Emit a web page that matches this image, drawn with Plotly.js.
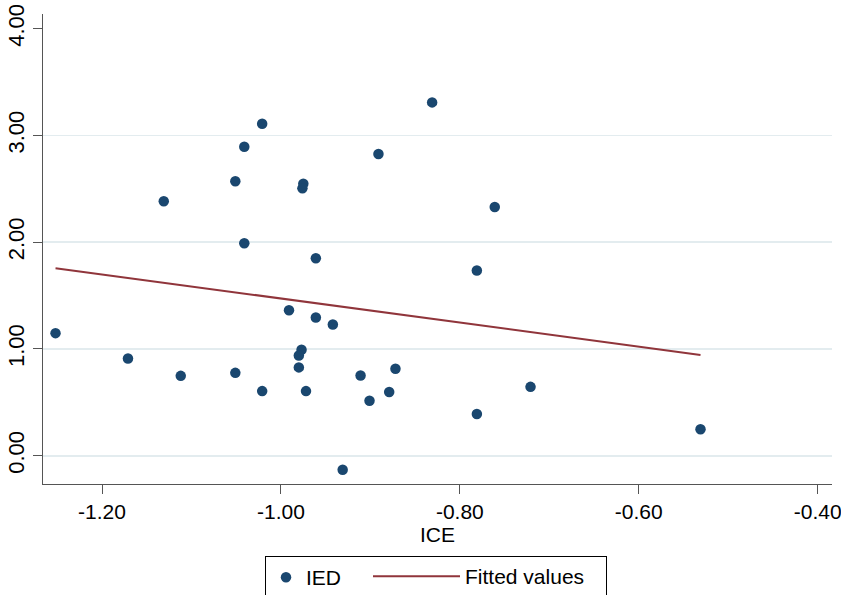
<!DOCTYPE html>
<html>
<head>
<meta charset="utf-8">
<script src="https://cdn.plot.ly/plotly-3.0.1.min.js"></script>
<style>html,body{margin:0;padding:0;background:#fff;}#chart{width:841px;height:595px;}</style>
</head>
<body>
<div id="chart"></div>
<script>
// ICE (x) and IED (y) values
var iceValues = [-1.252,-1.171,-1.112,-1.051,-1.021,-0.991,-1.131,-1.051,-1.041,-1.021,-1.041,-0.831,-0.891,-0.975,-0.976,-0.761,-0.961,-0.781,-0.961,-0.942,-0.977,-0.980,-0.980,-0.972,-0.911,-0.872,-0.901,-0.879,-0.781,-0.721,-0.531,-0.931];
var iedValues = [1.148,0.911,0.748,0.776,0.605,1.363,2.383,2.570,2.894,3.109,1.990,3.309,2.825,2.548,2.504,2.329,1.849,1.734,1.295,1.229,0.992,0.939,0.827,0.605,0.752,0.814,0.515,0.596,0.390,0.645,0.247,-0.131];

var xTickVals = [-1.2,-1.0,-0.8,-0.6,-0.4];
var xTickText = ['-1.20','-1.00','-0.80','-0.60','-0.40'];
var yTickVals = [0,1,2,3,4];
var yTickText = ['0.00','1.00','2.00','3.00','4.00'];
var yGridVals = [0,1,2,3];

// Linear fit (OLS) of IED on ICE
var n = iceValues.length, mx = 0, my = 0;
for (var i = 0; i < n; i++) { mx += iceValues[i]; my += iedValues[i]; }
mx /= n; my /= n;
var sxy = 0, sxx = 0;
for (var i = 0; i < n; i++) { sxy += (iceValues[i]-mx)*(iedValues[i]-my); sxx += (iceValues[i]-mx)*(iceValues[i]-mx); }
var slope = sxy / sxx, intercept = my - slope * mx;
var fitX = [Math.min.apply(null, iceValues), Math.max.apply(null, iceValues)];
var fitY = fitX.map(function(v){ return intercept + slope * v; });

var font = 'Liberation Sans, Arial, sans-serif';
var traces = [
  {x: iceValues, y: iedValues, type: 'scatter', mode: 'markers', name: 'IED',
   marker: {color: '#1a476f', size: 10.5}, legend: 'legend'},
  {x: fitX, y: fitY, type: 'scatter', mode: 'lines', name: 'Fitted values', yaxis: 'y2',
   line: {color: '#90353b', width: 2}, legend: 'legend2'}
];
var yRange = [-0.265, 4.137];
var layout = {
  width: 841, height: 595,
  margin: {l: 43, r: 9, t: 14, b: 111, pad: 0},
  paper_bgcolor: '#ffffff', plot_bgcolor: '#ffffff',
  font: {family: font, size: 21, color: '#000'},
  showlegend: true,
  xaxis: {range: [-1.266, -0.384], tickvals: xTickVals, ticktext: xTickText,
    showgrid: false, zeroline: false, showline: true, linecolor: '#555', linewidth: 1,
    ticks: 'outside', ticklen: 9, tickcolor: '#555', tickfont: {size: 21},
    ticklabeloverflow: 'allow', automargin: false,
    title: {text: 'ICE', font: {size: 21}, standoff: 2}},
  yaxis: {range: yRange, tickvals: yTickVals, ticktext: yTickText, tickangle: -90,
    showgrid: false, zeroline: false, showline: true, linecolor: '#555', linewidth: 1,
    ticks: 'outside', ticklen: 9, tickcolor: '#555', tickfont: {size: 22}, automargin: false},
  yaxis2: {range: yRange, overlaying: 'y', anchor: 'x', tickvals: yGridVals,
    showgrid: true, gridcolor: '#e3ecef', gridwidth: 1.6, showticklabels: false,
    ticks: '', zeroline: false, showline: false},
  legend: {orientation: 'h', xref: 'container', yref: 'container',
    x: 265/841, xanchor: 'left', y: 0.0655, yanchor: 'top',
    bordercolor: '#000', borderwidth: 1, font: {size: 21}, itemwidth: 30,
    entrywidth: 295},
  legend2: {orientation: 'h', xref: 'container', yref: 'container',
    x: 368/841, xanchor: 'left', y: 0.0655, yanchor: 'top',
    bgcolor: 'rgba(0,0,0,0)', borderwidth: 0, font: {size: 21}, itemwidth: 87}
};
Plotly.newPlot('chart', traces, layout, {staticPlot: true, displayModeBar: false});
</script>
</body>
</html>
